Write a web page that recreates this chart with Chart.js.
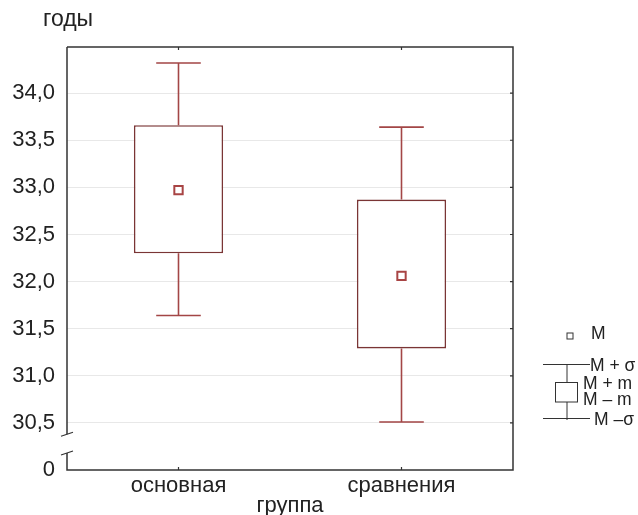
<!DOCTYPE html>
<html>
<head>
<meta charset="utf-8">
<script src="https://cdn.jsdelivr.net/npm/chart.js@4.4.1/dist/chart.umd.min.js"></script>
<style>
  html, body { margin: 0; padding: 0; background: #fff; }
  #wrap { width: 638px; height: 515px; }
</style>
</head>
<body>
<div id="wrap"><canvas id="chart" width="638" height="515"></canvas></div>
<script>
// Groups and their statistics (M, M ± m, M ± σ)
const groups = ['основная', 'сравнения'];
const means = [32.97, 32.06];
const boxLow = [32.30, 31.29];     // M - m
const boxHigh = [33.66, 32.87];    // M + m
const whiskerLow = [31.64, 30.51]; // M - σ
const whiskerHigh = [34.32, 33.64];// M + σ

// Y axis ticks; 30 is shown as "0" below the axis break
const yTicks = [30, 30.5, 31, 31.5, 32, 32.5, 33, 33.5, 34];
const axisBreak = [30.18, 30.38];

const boxColor = '#7a3535';
const whiskerColor = '#a34646';
const frameColor = '#333';
const FONT = "'Liberation Sans', Arial, sans-serif";

const fmt = v => (v === 30 ? '0' : v.toFixed(1).replace('.', ','));

// Whiskers, frame with axis break, and the little legend on the right
const extrasPlugin = {
  id: 'extras',
  beforeDatasetsDraw(chart) {
    const { ctx, scales: { y } } = chart;
    const meta = chart.getDatasetMeta(0);
    ctx.save();
    ctx.strokeStyle = whiskerColor;
    ctx.lineWidth = 1.6;
    meta.data.forEach((bar, i) => {
      const x = bar.x;
      const cap = bar.width / 4;
      const yHi = y.getPixelForValue(whiskerHigh[i]);
      const yLo = y.getPixelForValue(whiskerLow[i]);
      ctx.beginPath();
      ctx.moveTo(x, yHi); ctx.lineTo(x, y.getPixelForValue(boxHigh[i]));
      ctx.moveTo(x, y.getPixelForValue(boxLow[i])); ctx.lineTo(x, yLo);
      ctx.moveTo(x - cap, yHi); ctx.lineTo(x + cap, yHi);
      ctx.moveTo(x - cap, yLo); ctx.lineTo(x + cap, yLo);
      ctx.stroke();
    });
    ctx.restore();
  },
  afterDraw(chart) {
    const { ctx, chartArea: a, scales: { x, y } } = chart;
    ctx.save();
    ctx.strokeStyle = frameColor;
    ctx.lineWidth = 1.5;
    const bTop = y.getPixelForValue(axisBreak[1]);
    const bBot = y.getPixelForValue(axisBreak[0]);
    ctx.beginPath();
    // top, right, bottom
    ctx.moveTo(a.left, a.top); ctx.lineTo(a.right, a.top); ctx.lineTo(a.right, a.bottom); ctx.lineTo(a.left, a.bottom);
    // left with break
    ctx.lineTo(a.left, bBot);
    ctx.moveTo(a.left, a.top); ctx.lineTo(a.left, bTop);
    ctx.stroke();
    ctx.lineWidth = 1.2;
    ctx.beginPath();
    ctx.moveTo(a.left - 6, bTop + 2); ctx.lineTo(a.left + 6, bTop - 2);
    ctx.moveTo(a.left - 6, bBot + 2); ctx.lineTo(a.left + 6, bBot - 2);
    // inward ticks on right axis
    yTicks.forEach(v => {
      if (v === 30) return;
      const py = y.getPixelForValue(v);
      ctx.moveTo(a.right, py); ctx.lineTo(a.right - 3, py);
    });
    // ticks at category centers, top and bottom
    groups.forEach((g, i) => {
      const px = x.getPixelForValue(i);
      ctx.moveTo(px, a.top); ctx.lineTo(px, a.top + 3);
      ctx.moveTo(px, a.bottom); ctx.lineTo(px, a.bottom - 3);
    });
    ctx.stroke();

    // y axis unit label
    ctx.fillStyle = '#222';
    ctx.font = '23px ' + FONT;
    ctx.textAlign = 'left';
    ctx.textBaseline = 'middle';
    ctx.fillText('годы', 43, 20);

    // legend
    const L = a.right;
    ctx.strokeStyle = '#333';
    ctx.lineWidth = 1;
    ctx.fillStyle = '#fff';
    ctx.fillRect(L + 54, 333, 6, 6);
    ctx.strokeRect(L + 54, 333, 6, 6);
    ctx.beginPath();
    ctx.moveTo(L + 30, 364.5); ctx.lineTo(L + 77, 364.5);
    ctx.moveTo(L + 30, 418.5); ctx.lineTo(L + 77, 418.5);
    ctx.moveTo(L + 54, 364.5); ctx.lineTo(L + 54, 383);
    ctx.moveTo(L + 54, 402); ctx.lineTo(L + 54, 420);
    ctx.stroke();
    ctx.strokeRect(L + 42.5, 382.5, 22, 19.5);
    ctx.fillStyle = '#222';
    ctx.font = '17.5px ' + FONT;
    ctx.fillText('M', L + 78, 334);
    ctx.fillText('M + σ', L + 77, 366);
    ctx.fillText('M + m', L + 70, 384);
    ctx.fillText('M – m', L + 70, 400);
    ctx.fillText('M –σ', L + 81, 420);
    ctx.restore();
  }
};

new Chart(document.getElementById('chart'), {
  type: 'bar',
  data: {
    labels: groups,
    datasets: [
      {
        type: 'bar',
        label: 'M ± m',
        data: groups.map((g, i) => [boxLow[i], boxHigh[i]]),
        backgroundColor: '#fff',
        borderColor: boxColor,
        borderWidth: 1.6,
        borderSkipped: false,
        categoryPercentage: 1,
        barPercentage: 0.4,
        order: 2,
      },
      {
        type: 'line',
        label: 'M',
        data: means,
        showLine: false,
        pointStyle: 'rect',
        pointRadius: 5.9,
        pointBorderWidth: 2,
        pointBorderColor: '#a84444',
        pointBackgroundColor: '#fff',
        order: 1,
      },
    ],
  },
  plugins: [extrasPlugin],
  options: {
    responsive: false,
    animation: false,
    layout: { padding: { top: 47, right: 125, left: 0, bottom: 0 } },
    plugins: { legend: { display: false }, tooltip: { enabled: false } },
    scales: {
      x: {
        grid: { display: false, drawTicks: false },
        border: { display: false },
        afterFit: s => { s.height = 45; },
        ticks: { color: '#222', padding: 3, font: { family: FONT, size: 22 } },
        title: {
          display: true,
          text: 'группа',
          color: '#222',
          padding: { top: 0, bottom: -2 },
          font: { family: FONT, size: 22, lineHeight: 1 },
        },
      },
      y: {
        min: 30,
        max: 34.49,
        afterBuildTicks: s => { s.ticks = yTicks.map(v => ({ value: v })); },
        afterFit: s => { s.width = 67; },
        grid: {
          drawTicks: false,
          color: c => (c.tick && c.tick.value === 30 ? 'rgba(0,0,0,0)' : '#e8e8e8'),
        },
        border: { display: false },
        ticks: {
          color: '#222',
          padding: 12,
          font: { family: FONT, size: 22 },
          callback: v => fmt(v),
        },
      },
    },
  },
});
</script>
</body>
</html>
